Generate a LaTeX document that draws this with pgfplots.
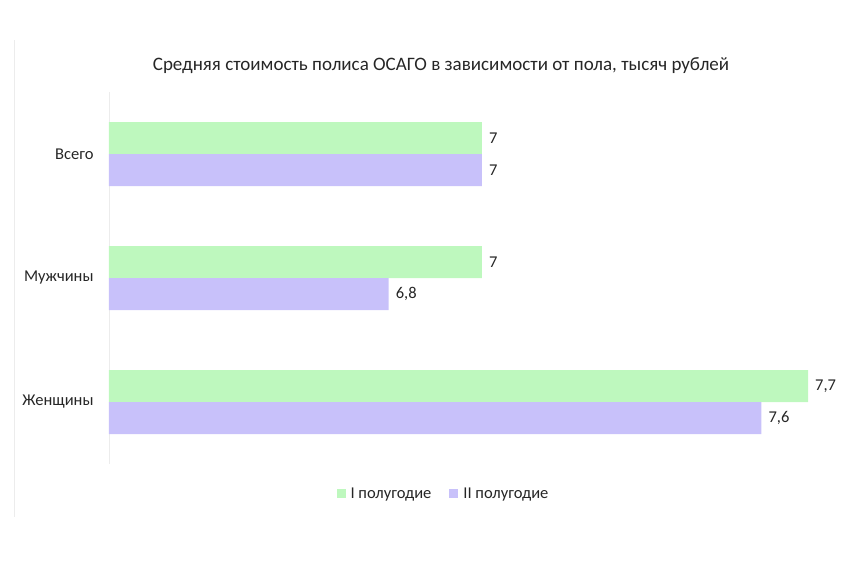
\documentclass[border=0pt]{standalone}
\usepackage{pgfplots}
\pgfplotsset{compat=1.18}
\usepackage{fontspec}
\setmainfont{Carlito}

\definecolor{half1}{RGB}{190,248,190}
\definecolor{half2}{RGB}{200,193,250}
\definecolor{txt}{RGB}{38,38,38}
\definecolor{frame}{RGB}{236,236,236}

\begin{document}
\begin{tikzpicture}
\path[use as bounding box] (0,0) rectangle (860pt,566pt);
\draw[frame, line width=1pt] (14pt,49pt) -- (14pt,526pt);
\begin{axis}[
    at={(109pt,102pt)}, anchor=south west,
    scale only axis, width=745.6pt, height=372pt,
    xbar, bar width=32pt,
    xmin=6.2, xmax=7.8,
    ymin=-0.5, ymax=2.5,
    axis x line=none,
    axis y line*=left,
    y axis line style={draw=frame, line width=0.8pt},
    ytick={0,1,2},
    yticklabels={Женщины,Мужчины,Всего},
    ytick style={draw=none},
    yticklabel style={font=\fontsize{16.5}{18}\selectfont, text=txt, inner sep=0pt, xshift=-11pt},
    nodes near coords,
    nodes near coords style={font=\fontsize{16.5}{18}\selectfont, text=txt, anchor=west, inner sep=0pt, xshift=7pt,
        /pgf/number format/.cd, use comma, fixed, precision=1, assume math mode=true},
    title={Средняя стоимость полиса ОСАГО в зависимости от пола, тысяч рублей},
    title style={font=\fontsize{19}{22}\selectfont, text=txt, at={(axis description cs:0.4453,1.054)}, anchor=center},
    legend columns=2,
    legend style={at={(axis description cs:0.4486,-0.0806)}, anchor=center, draw=none,
        font=\fontsize{16.5}{18}\selectfont, text=txt,
        /tikz/every odd column/.append style={column sep=3pt},
        /tikz/every even column/.append style={column sep=16pt}},
    legend image code/.code={\fill[#1] (8pt,-4.5pt) rectangle (17pt,4.5pt);},
]
\addplot[fill=half1, draw=none, bar shift=16pt] coordinates {(7.7,0) (7,1) (7,2)};
\addplot[fill=half2, draw=none, bar shift=-16pt] coordinates {(7.6,0) (6.8,1) (7,2)};
\legend{I полугодие, II полугодие}
\end{axis}
\end{tikzpicture}
\end{document}
